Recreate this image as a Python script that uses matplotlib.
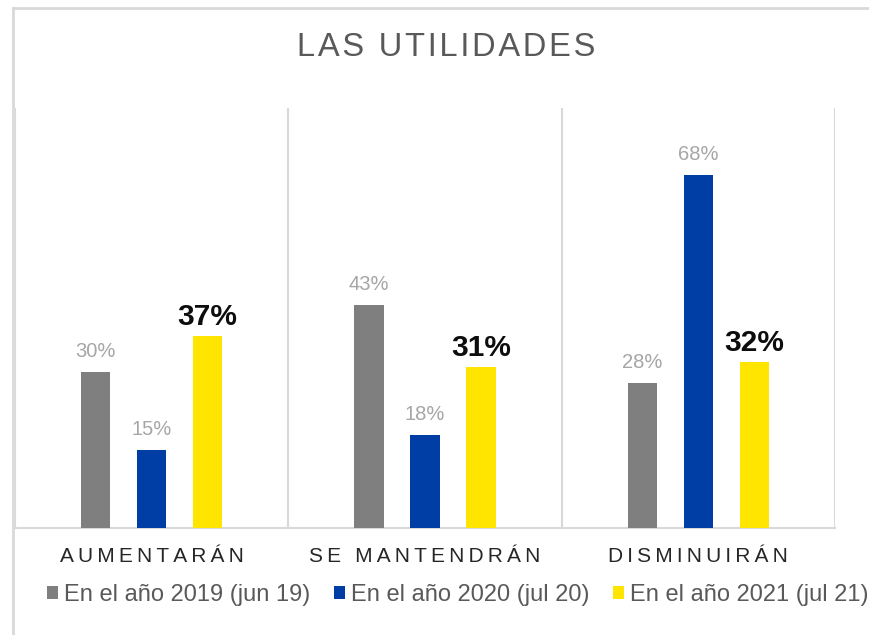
import matplotlib.pyplot as plt
import numpy as np

plt.rcParams['font.family'] = ['Liberation Sans', 'DejaVu Sans']

categorias = ['AUMENTARÁN', 'SE MANTENDRÁN', 'DISMINUIRÁN']
series = ['En el año 2019 (jun 19)', 'En el año 2020 (jul 20)', 'En el año 2021 (jul 21)']
v2019 = [0.30, 0.43, 0.28]
v2020 = [0.15, 0.18, 0.68]
v2021 = [0.37, 0.31, 0.32]
colores = ['#7f7f7f', '#003da5', '#ffe500']


def espaciar(txt, sep='\u200a'):
    # imita el espaciado entre letras de Excel
    return sep.join(txt)


fig = plt.figure(figsize=(8.7, 6.35), dpi=100)
fig.patch.set_facecolor('white')
ax = fig.add_axes([15 / 870, 1 - 528 / 635, 820 / 870, 420 / 635])

# borde del area del grafico (solo arriba e izquierda visibles)
fig.add_artist(plt.Line2D([13 / 870, 1], [1 - 8 / 635] * 2, color='#d9d9d9', lw=2))
fig.add_artist(plt.Line2D([13 / 870] * 2, [0, 1 - 8 / 635], color='#d9d9d9', lw=2))

x = np.arange(len(categorias))
ancho = 0.107
paso = 0.205
valores = [v2019, v2020, v2021]
for i, (vals, col, nom) in enumerate(zip(valores, colores, series)):
    pos = x + (i - 1) * paso
    ax.bar(pos, vals, width=ancho, color=col, label=nom, zorder=3)
    for xp, v in zip(pos, vals):
        if i == 2:
            ax.text(xp, v + 0.022, f'{v * 100:.0f}%', ha='center', va='baseline',
                    fontsize=21.5, fontweight='bold', color='#0d0d0d')
        else:
            ax.text(xp, v + 0.029, f'{v * 100:.0f}%', ha='center', va='baseline',
                    fontsize=14.5, color='#a6a6a6')

ax.set_xlim(-0.5, 2.5)
ax.set_ylim(0, 0.81)
ax.set_yticks([])
ax.set_xticks(x)
ax.set_xticklabels([espaciar(c, '\u2009') for c in categorias], fontsize=15, color='#262626')
ax.tick_params(axis='x', length=0, pad=14)
for s in ['top', 'right', 'left']:
    ax.spines[s].set_visible(False)
ax.spines['bottom'].set_color('#d9d9d9')
ax.spines['bottom'].set_linewidth(1.5)
for b in [-0.5, 0.5, 1.5, 2.5]:
    ax.axvline(b, color='#d9d9d9', lw=1.5, zorder=1)

fig.text(446 / 870, 1 - 47 / 635, espaciar('LAS UTILIDADES', '\u200a'), ha='center', va='center',
         fontsize=23.5, color='#595959')

fig.legend(loc='center', bbox_to_anchor=(458 / 870, 1 - 595 / 635), ncol=3, frameon=False,
           fontsize=17, labelcolor='#595959', handlelength=0.47, handleheight=0.47,
           handletextpad=0.25, columnspacing=1.0)

fig.savefig('out.png', dpi=100)
